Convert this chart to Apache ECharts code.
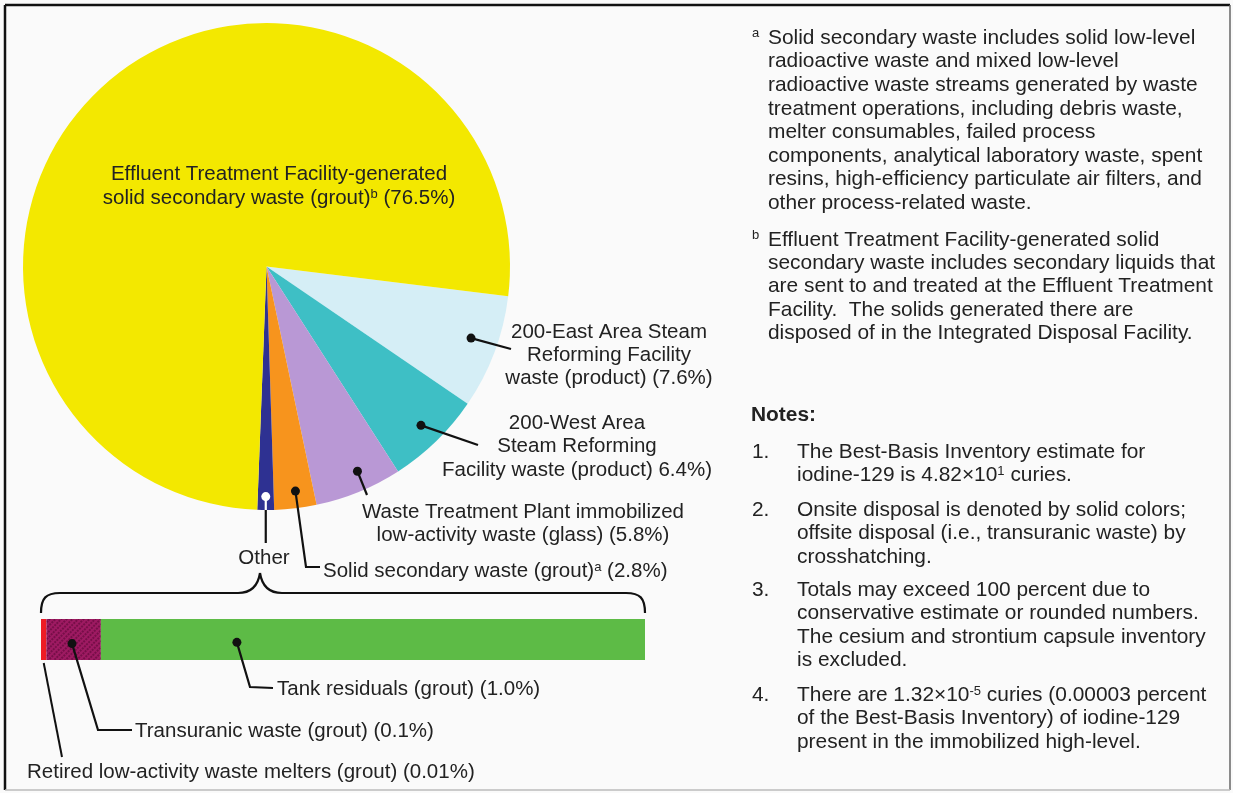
<!DOCTYPE html>
<html><head><meta charset="utf-8">
<script src="https://cdn.jsdelivr.net/npm/echarts@6/dist/echarts.min.js"></script>
<style>html,body{margin:0;padding:0;background:#fafafa}#c{width:1233px;height:793px}</style>
</head><body><div id="c"></div>
<script>
// ---------- data ----------
const pieCategories = [
  '200-East Area Steam Reforming Facility waste (product)',
  '200-West Area Steam Reforming Facility waste (product)',
  'Waste Treatment Plant immobilized low-activity waste (glass)',
  'Solid secondary waste (grout)',
  'Other',
  'Effluent Treatment Facility-generated solid secondary waste (grout)'
];
const pieValues = [7.6, 6.4, 5.8, 2.8, null, 76.5]; // "Other" = sum of otherValues
const pieColors = ['#d5eef6', '#3ebfc5', '#b998d5', '#f7941d', '#2e3192', '#f3e800'];

const otherCategories = ['Retired low-activity waste melters (grout)', 'Transuranic waste (grout)', 'Tank residuals (grout)'];
const otherValues = [0.01, 0.1, 1.0];
const otherColors = ['#ee1c25', '#9e1a62', '#5dbb46'];

const pieLabels = [
  ['200-East Area Steam', 'Reforming Facility', 'waste (product) (7.6%)'],
  ['200-West Area', 'Steam Reforming', 'Facility waste (product) 6.4%)'],
  ['Waste Treatment Plant immobilized', 'low-activity waste (glass) (5.8%)'],
  ['Solid secondary waste (grout){sup|a} (2.8%)'],
  ['Other'],
  ['Effluent Treatment Facility-generated', 'solid secondary waste (grout){sup|b} (76.5%)']
];
const otherLabels = [
  'Retired low-activity waste melters (grout) (0.01%)',
  'Transuranic waste (grout) (0.1%)',
  'Tank residuals (grout) (1.0%)'
];
const footnoteA = [
  'Solid secondary waste includes solid low-level',
  'radioactive waste and mixed low-level',
  'radioactive waste streams generated by waste',
  'treatment operations, including debris waste,',
  'melter consumables, failed process',
  'components, analytical laboratory waste, spent',
  'resins, high-efficiency particulate air filters, and',
  'other process-related waste.'
];
const footnoteB = [
  'Effluent Treatment Facility-generated solid',
  'secondary waste includes secondary liquids that',
  'are sent to and treated at the Effluent Treatment',
  'Facility.  The solids generated there are',
  'disposed of in the Integrated Disposal Facility.'
];
const notes = [
  ['The Best-Basis Inventory estimate for', 'iodine-129 is 4.82×10{sup|1} curies.'],
  ['Onsite disposal is denoted by solid colors;', 'offsite disposal (i.e., transuranic waste) by', 'crosshatching.'],
  ['Totals may exceed 100 percent due to', 'conservative estimate or rounded numbers.', 'The cesium and strontium capsule inventory', 'is excluded.'],
  ['There are 1.32×10{sup|-5} curies (0.00003 percent', 'of the Best-Basis Inventory) of iodine-129', 'present in the immobilized high-level.']
];

// ---------- chart ----------
const otherSum = otherValues.reduce((a, b) => a + b, 0);
const pieData = pieCategories.map((n, i) => ({
  name: n,
  value: pieValues[i] == null ? otherSum : pieValues[i],
  itemStyle: { color: pieColors[i] }
}));

const FONT = '"Liberation Sans", Arial, Helvetica, sans-serif';
const FS = 20.5;
const FS_R = 20.9;
const TXT = '#222';

const chart = echarts.init(document.getElementById('c'), null, { renderer: 'canvas' });
chart.setOption({
  backgroundColor: '#fafafa',
  animation: false,
  grid: { left: 41, top: 619, width: 604, height: 41 },
  xAxis: { type: 'value', min: 0, max: otherSum, show: false },
  yAxis: { type: 'category', data: ['Other'], show: false },
  series: [
    {
      type: 'pie', center: [266.5, 266.5], radius: 243.5, startAngle: -7, clockwise: true,
      label: { show: false }, labelLine: { show: false },
      itemStyle: { borderWidth: 0 },
      emphasis: { disabled: true },
      data: pieData
    }
  ].concat(otherCategories.map((n, i) => ({
    type: 'bar', name: n, stack: 'other', barWidth: 41,
    data: [otherValues[i]],
    itemStyle: Object.assign({ color: otherColors[i] }, i === 1 ? {
      decal: { symbol: 'rect', symbolSize: 1, dashArrayX: [[2, 2]], dashArrayY: [2, 1], rotation: Math.PI / 4, color: 'rgba(70,0,40,0.45)' }
    } : {})
  })))
});

// ---------- annotations (positions derived from the library's layout) ----------
function line(x, y, s, opt) {
  opt = opt || {};
  const style = {
    text: s, x: 0, y: 0, fill: opt.fill || TXT,
    font: (opt.bold ? 'bold ' : '') + (opt.size || FS) + 'px ' + (opt.family || FONT),
    align: opt.align || 'left', textAlign: opt.align || 'left',
    verticalAlign: 'middle', textVerticalAlign: 'middle'
  };
  if (s.indexOf('{') >= 0) {
    style.rich = { sup: { font: '13px ' + FONT, fill: opt.fill || TXT, verticalAlign: 'top', padding: [0, 0, 4, 0] } };
  }
  return { type: 'text', x: x, y: y, z: 100, silent: true, style: style };
}
function block(x, y0, lh, arr, opt) { return arr.map((s, i) => line(x, y0 + i * lh, s, opt)); }
function dot(p, fill) { return { type: 'circle', z: 101, silent: true, shape: { cx: p[0], cy: p[1], r: 4.5 }, style: { fill: fill || '#111' } }; }
function poly(pts, stroke, w) { return { type: 'polyline', z: 100, silent: true, shape: { points: pts }, style: { stroke: stroke || '#111', lineWidth: w || 2.2, fill: null } }; }
function bez(p1, c1, c2, p2) {
  return { type: 'bezierCurve', z: 100, silent: true,
    shape: { x1: p1[0], y1: p1[1], cpx1: c1[0], cpy1: c1[1], cpx2: c2[0], cpy2: c2[1], x2: p2[0], y2: p2[1] },
    style: { stroke: '#111', lineWidth: 2.2, fill: null } };
}

const model = chart.getModel();
const pd = model.getSeriesByIndex(0).getData();
function slicePoint(i, rf, af) {
  const L = pd.getItemLayout(i);
  const a = L.startAngle + (L.endAngle - L.startAngle) * (af == null ? 0.5 : af);
  return [L.cx + rf * L.r * Math.cos(a), L.cy + rf * L.r * Math.sin(a)];
}
const L0 = pd.getItemLayout(0);
function barRect(k) { return model.getSeriesByIndex(1 + k).getData().getItemLayout(0); }

const g = [];
// frame
g.push({ type: 'line', z: 100, shape: { x1: 5, y1: 5, x2: 1230, y2: 5 }, style: { stroke: '#111', lineWidth: 2.5 } });
g.push({ type: 'line', z: 100, shape: { x1: 5, y1: 5, x2: 5, y2: 790 }, style: { stroke: '#111', lineWidth: 2.5 } });
g.push({ type: 'line', z: 100, shape: { x1: 1230, y1: 5, x2: 1230, y2: 790 }, style: { stroke: '#666', lineWidth: 1.5 } });
g.push({ type: 'line', z: 100, shape: { x1: 5, y1: 790, x2: 1230, y2: 790 }, style: { stroke: '#bbb', lineWidth: 1.5 } });

// pie labels
g.push(...block(279, 174, 24, pieLabels[5], { align: 'center' }));
g.push(...block(609, 332, 23.3, pieLabels[0], { align: 'center' }));
g.push(...block(577, 423, 23.5, pieLabels[1], { align: 'center' }));
g.push(...block(523, 512, 23.5, pieLabels[2], { align: 'center' }));
g.push(line(323, 571, pieLabels[3][0]));
g.push(line(264, 558, pieLabels[4][0], { align: 'center' }));

// pie leaders
const pLB = slicePoint(0, 0.89, 0.45);
g.push(poly([pLB, [511, 349]]), dot(pLB));
const pT = slicePoint(1, 0.91, 0.5);
g.push(poly([pT, [478, 445]]), dot(pT));
const pL = slicePoint(2, 0.92, 0.42);
g.push(poly([pL, [367, 495]]), dot(pL));
const pO = slicePoint(3, 0.93, 0.45);
g.push(poly([pO, [306, 567], [320, 567]]), dot(pO));
const pB = slicePoint(4, 0.945, 0.5);
const edgeY = L0.cy + L0.r;
g.push(poly([[pB[0], edgeY], [pB[0], 543]]));
g.push(poly([pB, [pB[0], edgeY]], '#fff', 2.2), dot(pB, '#fff'));

// brace
g.push(bez([41, 613], [41, 598], [46, 593], [60, 593]));
g.push(poly([[60, 593], [238, 593]]));
g.push(bez([238, 593], [251, 593], [258, 586], [260, 573]));
g.push(bez([260, 573], [262, 586], [269, 593], [282, 593]));
g.push(poly([[282, 593], [626, 593]]));
g.push(bez([626, 593], [640, 593], [645, 598], [645, 613]));

// bar leaders + labels
const rR = barRect(0), rM = barRect(1), rG = barRect(2);
g.push(poly([[rR.x + rR.width / 2, rR.y + rR.height + 3], [62, 757]], '#111', 2));
const pM = [rM.x + rM.width * 0.47, rM.y + rM.height * 0.6];
g.push(poly([pM, [98, 730], [132, 730]]), dot(pM));
const pG = [rG.x + rG.width * 0.25, rG.y + rG.height * 0.57];
g.push(poly([pG, [250, 687], [273, 688]]), dot(pG));
g.push(line(277, 689, otherLabels[2]));
g.push(line(135, 731, otherLabels[1]));
g.push(line(27, 772, otherLabels[0]));

// right block
const R = { size: FS_R };
g.push(line(752, 33, 'a', { size: 13 }));
g.push(...block(768, 38, 23.6, footnoteA, R));
g.push(line(752, 235, 'b', { size: 13 }));
g.push(...block(768, 240, 23.3, footnoteB, R));
g.push(line(751, 415, 'Notes:', { bold: true, size: FS_R }));
const noteY = [452, 510, 590, 695];
notes.forEach((arr, i) => {
  g.push(line(752, noteY[i], (i + 1) + '.', R));
  g.push(...block(797, noteY[i], 23.4, arr, R));
});

chart.setOption({ graphic: { elements: g } });
</script></body></html>
